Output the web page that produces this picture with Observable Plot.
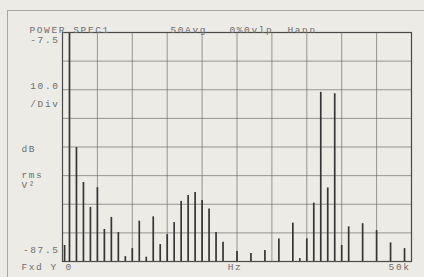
<!DOCTYPE html>
<html>
<head>
<meta charset="utf-8">
<script src="https://cdn.jsdelivr.net/npm/d3@7"></script>
<script src="https://cdn.jsdelivr.net/npm/@observablehq/plot@0.6"></script>
<style>
  html, body { margin: 0; padding: 0; background: #ecebe6; }
  #wrap { position: relative; width: 424px; height: 277px; overflow: hidden; }
  #border { position: absolute; left: 7px; top: 10px; width: 430px; height: 300px;
            border-left: 1.5px solid #a8a7a2; border-top: 1.5px solid #a8a7a2; box-sizing: border-box; }
  #chart { position: absolute; left: 0; top: 0; }
  #chart svg text { letter-spacing: 1.6px; }
</style>
</head>
<body>
<div id="wrap"><div id="border"></div><div id="chart"></div></div>
<script>
// Harmonic spectrum (frequency in kHz, level in dB rms V²)
const freqKHz = [0.3, 1, 2, 3, 4, 5, 6, 7, 8, 9, 10, 11, 12, 13, 14, 15, 16, 17, 18, 19, 20, 21, 22, 23,
                 25, 27, 29, 31, 33, 34, 35, 36, 37, 38, 39, 40, 41, 43, 45, 47, 49];
const levelDb = [-81.9, -7.5, -47.7, -59.9, -68.6, -61.7, -76.3, -72.1, -77.4, -85.8, -83.0, -73.4, -86.0, -71.9,
                 -81.6, -78.1, -73.9, -66.5, -64.4, -63.4, -66.2, -69.2, -77.4, -80.8,
                 -84.0, -84.7, -83.7, -79.6, -74.1, -86.5, -79.6, -67.1, -28.4, -61.8, -28.9, -81.9, -75.4,
                 -74.3, -76.7, -81.0, -83.0];
const xTicks = [0, 5, 10, 15, 20, 25, 30, 35, 40, 45, 50];
const yTicks = [-7.5, -17.5, -27.5, -37.5, -47.5, -57.5, -67.5, -77.5, -87.5];
const headerLeft = "POWER SPEC1";
const headerAvg = "50Avg";
const headerOvlp = "0%0vlp";
const headerWin = "Hann";
const yTop = "-7.5";
const yBottom = "-87.5";
const scaleLabel = ["10.0", "/Div"];
const unitLabel = "dB";
const unitRms = "rms";
const unitV2 = "V²";
const footLeft = "Fxd";
const footY = "Y";
const xStart = "0";
const xUnit = "Hz";
const xEnd = "50k";

const spectrum = freqKHz.map((f, i) => ({f, db: levelDb[i]}));
const txt = "#6e6e6e";
const font = "Liberation Mono, DejaVu Sans Mono, monospace";

const plot = Plot.plot({
  width: 424,
  height: 277,
  marginLeft: 62,
  marginRight: 13,
  marginTop: 32,
  marginBottom: 16,
  style: {background: "transparent", fontFamily: font, fontSize: "9.5px", color: txt},
  x: {domain: [0, 50], axis: null},
  y: {domain: [-87.5, -7.5], axis: null},
  marks: [
    Plot.gridX(xTicks, {stroke: "#6a6a6a", strokeOpacity: 0.75, strokeWidth: 0.9}),
    Plot.gridY(yTicks, {stroke: "#6a6a6a", strokeOpacity: 0.75, strokeWidth: 0.9}),
    Plot.ruleX(spectrum, {x: "f", y1: -87.5, y2: "db", stroke: "#353535", strokeWidth: 1.7}),
    Plot.frame({stroke: "#4a4a4a", strokeWidth: 1.2}),
    // header
    Plot.text([headerLeft], {frameAnchor: "top-left", dx: -33, dy: -6, textAnchor: "start", fill: txt}),
    Plot.text([headerAvg], {frameAnchor: "top-left", dx: 108, dy: -6, textAnchor: "start", fill: txt}),
    Plot.text([headerOvlp], {frameAnchor: "top-left", dx: 167, dy: -6, textAnchor: "start", fill: txt}),
    Plot.text([headerWin], {frameAnchor: "top-left", dx: 225, dy: -6, textAnchor: "start", fill: txt}),
    // left labels
    Plot.text([yTop], {frameAnchor: "top-left", dx: -3, dy: 4, textAnchor: "end", fill: txt}),
    Plot.text([scaleLabel.join("\n")], {frameAnchor: "top-left", dx: -3, dy: 44, textAnchor: "end", lineHeight: 1.9, fill: txt}),
    Plot.text([unitLabel], {frameAnchor: "top-left", dx: -41, dy: 113, textAnchor: "start", fill: txt}),
    Plot.text([unitRms], {frameAnchor: "top-left", dx: -41, dy: 139, textAnchor: "start", fill: txt}),
    Plot.text([unitV2], {frameAnchor: "top-left", dx: -41, dy: 149, textAnchor: "start", fill: txt}),
    Plot.text([yBottom], {frameAnchor: "bottom-left", dx: -3, dy: -9, textAnchor: "end", fill: txt}),
    // footer
    Plot.text([footLeft], {frameAnchor: "bottom-left", dx: -41, dy: 8, textAnchor: "start", fill: txt}),
    Plot.text([footY], {frameAnchor: "bottom-left", dx: -12, dy: 8, textAnchor: "start", fill: txt}),
    Plot.text([xStart], {frameAnchor: "bottom-left", dx: 3, dy: 8, textAnchor: "start", fill: txt}),
    Plot.text([xUnit], {frameAnchor: "bottom", dx: -2, dy: 8, textAnchor: "middle", fill: txt}),
    Plot.text([xEnd], {frameAnchor: "bottom-right", dx: -1, dy: 8, textAnchor: "end", fill: txt})
  ]
});
document.getElementById("chart").appendChild(plot);
</script>
</body>
</html>
